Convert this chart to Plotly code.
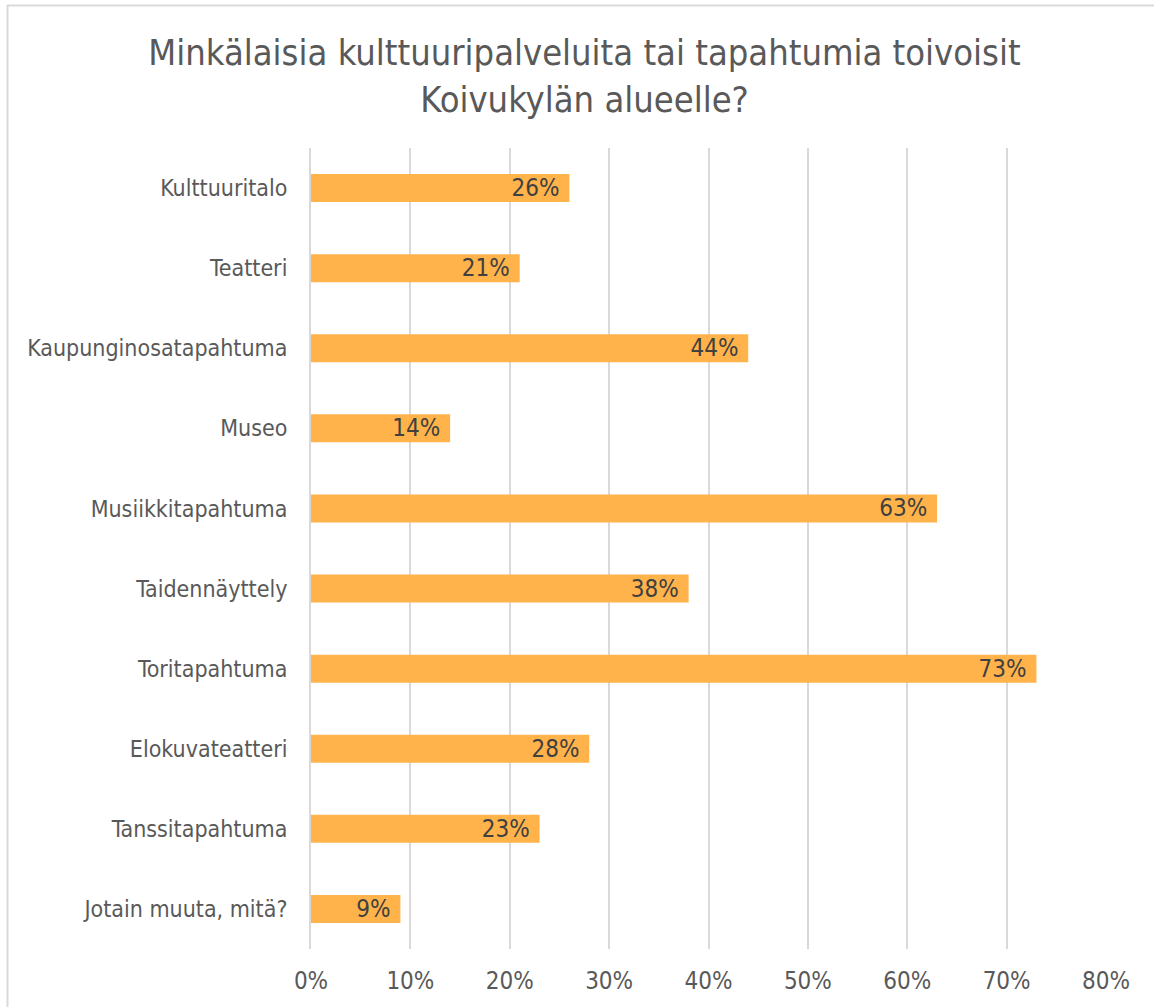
import plotly.graph_objects as go

# Data
categories = ['Kulttuuritalo', 'Teatteri', 'Kaupunginosatapahtuma', 'Museo',
              'Musiikkitapahtuma', 'Taidennäyttely', 'Toritapahtuma',
              'Elokuvateatteri', 'Tanssitapahtuma', 'Jotain muuta, mitä?']
values = [0.26, 0.21, 0.44, 0.14, 0.63, 0.38, 0.73, 0.28, 0.23, 0.09]
tick_vals = [0, 0.1, 0.2, 0.3, 0.4, 0.5, 0.6, 0.7, 0.8]
tick_text = ['0%', '10%', '20%', '30%', '40%', '50%', '60%', '70%', '80%']

font_family = 'Tahoma, DejaVu Sans Condensed, DejaVu Sans, sans-serif'

fig = go.Figure()
fig.add_trace(go.Bar(
    x=values,
    y=categories,
    orientation='h',
    marker=dict(color='#FFB34A', line=dict(width=0)),
    width=0.35,
    # trailing no-break space keeps the label a bit off the bar end
    text=[f'{round(v * 100)}%\u00a0' for v in values],
    textposition='inside',
    insidetextanchor='end',
    constraintext='none',
    textfont=dict(size=24, color='#404040', family=font_family),
    cliponaxis=False,
))

# plot area spans 311..1106 px horizontally, 148..949 px vertically
L, R, T, B = 311, 48, 148, 58
W, H = 1154, 1007
pw, ph = W - L - R, H - T - B


def px_x(x):
    return (x - L) / pw


def px_y(y):
    return (H - B - y) / ph


# chart border (only the top and left edges show in the reference)
border = dict(color='#D9D9D9', width=2)
shapes = [
    dict(type='line', xref='paper', yref='paper',
         x0=px_x(7), x1=px_x(1160), y0=px_y(5.5), y1=px_y(5.5), line=border),
    dict(type='line', xref='paper', yref='paper',
         x0=px_x(7.5), x1=px_x(7.5), y0=px_y(5), y1=px_y(1010), line=border),
]

fig.update_layout(
    width=W, height=H,
    margin=dict(l=L, r=R, t=T, b=B),
    paper_bgcolor='white',
    plot_bgcolor='white',
    showlegend=False,
    title=dict(
        text='Minkälaisia kulttuuripalveluita tai tapahtumia toivoisit<br>Koivukylän alueelle?',
        x=584.5 / W, xanchor='center', xref='container',
        y=1 - 65 / H, yanchor='middle', yref='container',
        font=dict(size=36, color='#595959', family=font_family),
    ),
    font=dict(family=font_family, color='#595959'),
    shapes=shapes,
)

fig.update_xaxes(
    range=[0, 0.8],
    tickvals=tick_vals, ticktext=tick_text,
    showgrid=True, gridcolor='#D9D9D9', gridwidth=2,
    zeroline=False, showline=False,
    tickfont=dict(size=24, color='#595959'),
    ticks='', ticklabelstandoff=15,
)
fig.update_yaxes(
    autorange='reversed',
    showgrid=False, zeroline=False,
    showline=True, linecolor='#D9D9D9', linewidth=2,
    tickfont=dict(size=23, color='#595959'),
    ticks='', ticklabelstandoff=17,
)

fig.write_html("out.html", config={'displayModeBar': False},
               post_script="document.body.style.margin='0';")
